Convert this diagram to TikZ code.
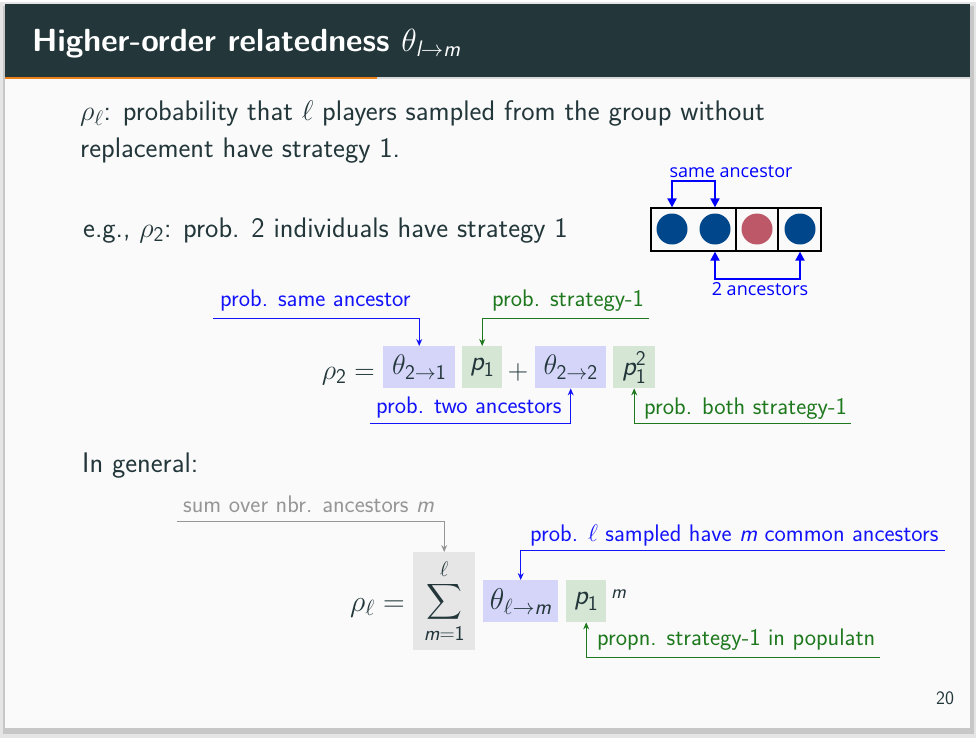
\RequirePackage{fix-cm}
\documentclass[tikz,border=0pt]{standalone}
\usepackage{amsmath}
\usepackage{fontspec}
\setmainfont{Latin Modern Sans}
\newfontfamily\picfont{Open Sans}
\usetikzlibrary{arrows.meta}
\definecolor{slidebg}{HTML}{FAFAFA}
\definecolor{titlebg}{HTML}{23373B}
\definecolor{morange}{HTML}{EB811B}
\definecolor{textc}{HTML}{23373B}
\definecolor{lblue}{HTML}{D5D5FA}
\definecolor{lgreen}{HTML}{D5E6D5}
\definecolor{lgray}{HTML}{E6E6E6}
\definecolor{labblue}{RGB}{20,20,250}
\definecolor{labgreen}{RGB}{30,120,30}
\definecolor{labgray}{RGB}{150,150,150}
\definecolor{dotblue}{HTML}{00468A}
\definecolor{dotred}{HTML}{BD5868}
\newcommand\tx[1]{\text{#1}}
\newcommand\ti[1]{\text{\itshape #1}}
\DeclareMathSizes{28.3}{28.3}{21}{15}
\DeclareMathSizes{30}{30}{22}{16}
\tikzset{
  body/.style={anchor=base west, inner sep=0, text=textc, font=\fontsize{28.3}{34}\selectfont},
  lab/.style={anchor=base west, inner sep=0, font=\fontsize{24}{29}\selectfont},
  bx/.style={anchor=north west, inner sep=0, minimum height=42, text=textc, font=\fontsize{28.3}{34}\selectfont},
  bxl/.style={bx, font=\fontsize{30}{36}\selectfont},
  larr/.style={line width=1, -{Stealth[length=7,width=6]}},
  parr/.style={line width=2, draw=blue, {Triangle[length=9,width=9]}-{Triangle[length=9,width=9]}},
  dot/.style={circle, inner sep=0, minimum size=31},
  picl/.style={inner sep=0, text=blue, font=\picfont\fontsize{18}{22}\selectfont},
}
\begin{document}
\begin{tikzpicture}[x=1pt,y=-1pt]
\useasboundingbox (0,0) rectangle (976,738);
\fill[white] (0,0) rectangle (976,738);
\fill[black!10] (0,2) rectangle (976,738);
\fill[black!22] (3,6) rectangle (974,734);
\fill[slidebg] (5,4) rectangle (970,728);
\fill[titlebg] (5,4) rectangle (970,77);
\fill[black!15] (5,77) rectangle (970,79);
\fill[morange] (5,77) rectangle (377,79);
\node[anchor=base west, inner sep=0, text=white, font=\fontsize{32}{38}\selectfont\bfseries] (title) at (32,52) {Higher-order relatedness $\theta_{\text{\mdseries\itshape l}\to\text{\mdseries\itshape m}}$};

\node[body] (l1) at (80,121) {$\rho_\ell$: probability that $\ell$ players sampled from the group without};
\node[body] (l2) at (80,158) {replacement have strategy 1.};
\node[body] (eg) at (83,237) {e.g., $\rho_{\tx{2}}$: prob. 2 individuals have strategy 1};

% picture
\node[draw, line width=1.3, minimum width=170, minimum height=43, inner sep=0] (row) at (736,229.5) {};
\draw[line width=1.3] (736,208) -- (736,251) (778,208) -- (778,251);
\node[dot, fill=dotblue] (c1) at (672,229) {};
\node[dot, fill=dotblue] (c2) at (715,229) {};
\node[dot, fill=dotred] (c3) at (757,229) {};
\node[dot, fill=dotblue] (c4) at (800,229) {};
\draw[parr] (c1 |- row.north) -- ++(0,-26) -| (c2 |- row.north);
\draw[parr] (c2 |- row.south) -- ++(0,27) -| (c4 |- row.south);
\node[picl] (sa) at (731,172) {same ancestor};
\node[picl] (ta) at (760,289) {2 ancestors};

% equation 1
\node[bx, fill=lblue, minimum width=72] (t21) at (383,346) {$\theta_{\tx{2}\to\tx{1}}$};
\node[bx, fill=lgreen, minimum width=40] (p1a) at (462,346) {$\ti{p}_{\tx{1}}$};
\node[bx, fill=lblue, minimum width=71] (t22) at (535,346) {$\theta_{\tx{2}\to\tx{2}}$};
\node[bx, fill=lgreen, minimum width=42] (p1b) at (613,346) {$\ti{p}_{\tx{1}}^{\tx{2}}$};
\node[body, anchor=base east] (rho2) at (375,379) {$\rho_{\tx{2}} =$};
\node[body, anchor=base] (plus) at (518,379) {$+$};

\coordinate (a1) at (213,318);
\coordinate (a2) at (649,318);
\coordinate (a3) at (370,423);
\coordinate (a4) at (851,423);
\node[lab, text=labblue] (lsa) at (220,306) {prob. same ancestor};
\node[lab, text=labgreen] (ls1) at (492,306) {prob. strategy-1};
\node[lab, text=labblue] (lta) at (376,413) {prob. two ancestors};
\node[lab, text=labgreen] (lbs) at (644,414) {prob. both strategy-1};
\draw[larr, labblue] (a1) -| (t21.north);
\draw[larr, labgreen] (a2) -| (p1a.north);
\draw[larr, labblue] (a3) -| (t22.south);
\draw[larr, labgreen] (a4) -| (p1b.south);

\node[body] (ing) at (82,472) {In general:};

% equation 2
\node[bx, fill=lgray, minimum width=62, minimum height=98] (sum) at (413,552) {$\displaystyle\sum_{\ti{m}=\tx{1}}^{\ell}$};
\node[bxl, fill=lblue, minimum width=75] (tlm) at (483,580) {$\theta_{\ell\to\ti{m}}$};
\node[bx, fill=lgreen, minimum width=40] (p1c) at (566,580) {$\ti{p}_{\tx{1}}$};
\node[anchor=base west, inner sep=0, text=textc, font=\fontsize{20}{24}\selectfont\itshape] (supm) at (611,598) {m};
\node[body, anchor=base east, font=\fontsize{30}{36}\selectfont] (rhol) at (405,611) {$\rho_\ell =$};

\coordinate (b1) at (177,521);
\coordinate (b2) at (945,550);
\coordinate (b3) at (880,657);
\node[lab, text=labgray] (lsum) at (183,512) {sum over nbr. ancestors \textit{m}};
\node[lab, text=labblue] (lsamp) at (530,541) {prob. $\ell$ sampled have \textit{m} common ancestors};
\node[lab, text=labgreen] (lpop) at (597,645) {propn. strategy-1 in populatn};
\draw[larr, labgray] (b1) -| (sum.north);
\draw[larr, labblue] (b2) -| (tlm.north);
\draw[larr, labgreen] (b3) -| (p1c.south);

\node[inner sep=0, text=textc, font=\fontsize{19}{22}\selectfont] (pg) at (945,698) {20};
\end{tikzpicture}
\end{document}
